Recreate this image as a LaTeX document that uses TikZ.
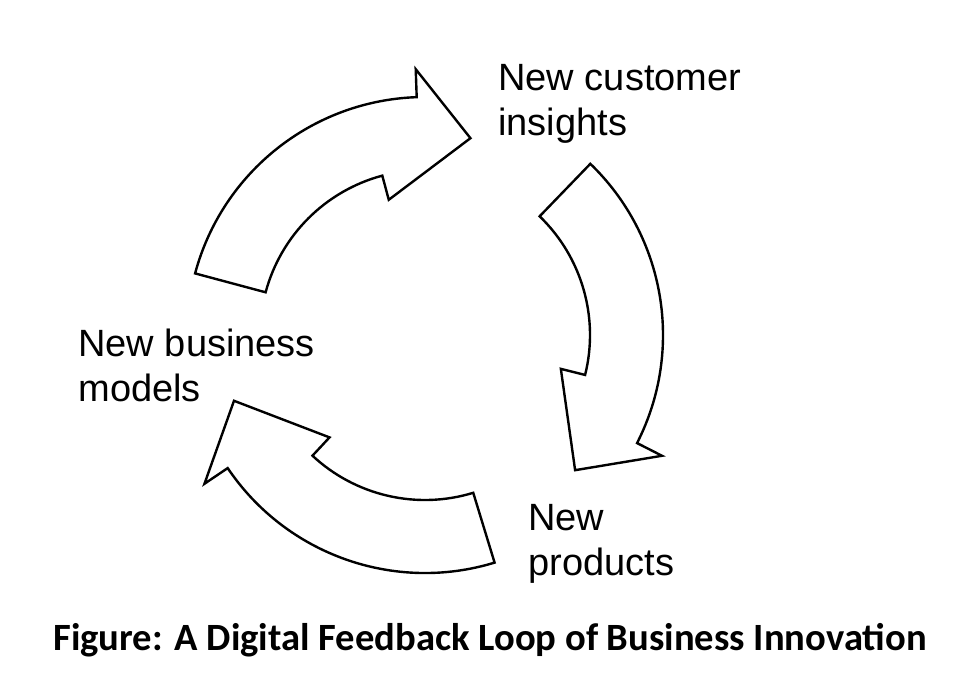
\documentclass[tikz,border=0pt]{standalone}
\usepackage{fontspec}
\setmainfont{Liberation Sans}
\newfontfamily\capfont{Carlito}

% one curved block arrow of the loop, starting at angle #1
\newcommand{\loopArrow}[2]{%
\draw[loop arrow] ({#1}:165) arc[start angle={#1}, end angle={#1+60}, radius=165]
  -- ({#1+60}:140) -- ({#1+88}:202) coordinate (#2) -- ({#1+73}:266)
  -- ({#1+73}:238) arc[start angle={#1+73}, end angle={#1}, radius=238] -- cycle;}

\begin{document}
\begin{tikzpicture}[x=0.5pt, y=-0.5pt,
  loop arrow/.style={line width=1.2pt, line join=miter, fill=white},
  label text/.style={font=\fontsize{19}{22.5}\selectfont, align=left, anchor=north west, inner sep=0pt}]

\useasboundingbox (0,0) rectangle (958,693);

% Draw the centre of the loop
\coordinate (C) at (425,335);

% Draw the three arrows
\begin{scope}[shift={(C)}]
\loopArrow{195}{tipA}
\loopArrow{314}{tipB}
\loopArrow{73}{tipC}
\end{scope}

% Draw the labels
\node[label text] (insights) at (498,64) {New customer\\insights};
\node[label text] (products) at (528,504) {New\\products};
\node[label text] (models) at (78,329) {New business\\models};

% Draw the caption
\node[font=\capfont\bfseries\fontsize{19.3}{23}\selectfont] (caption) at (490,640)
  {Figure: A Digital Feedback Loop of Business Innovation};

\end{tikzpicture}
\end{document}
